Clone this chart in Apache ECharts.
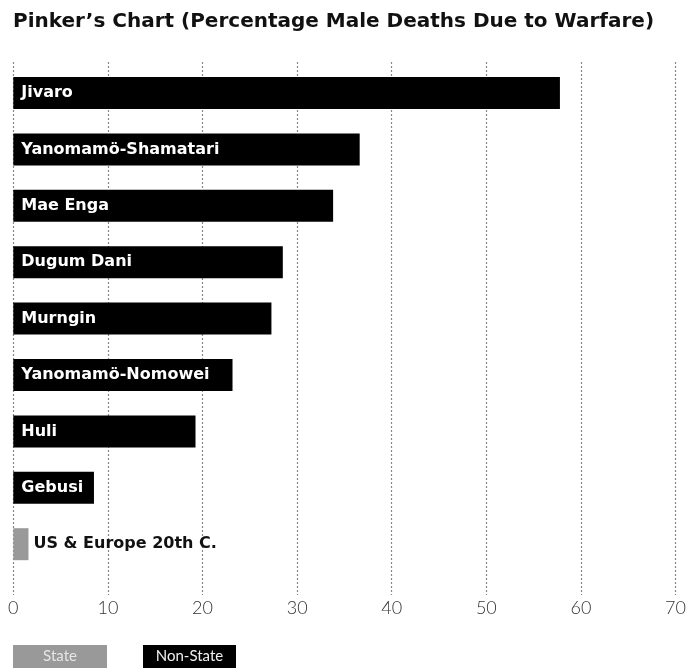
<!DOCTYPE html>
<html>
<head>
<meta charset="utf-8">
<script src="https://cdn.jsdelivr.net/npm/echarts@6/dist/echarts.min.js"></script>
<style>html,body{margin:0;padding:0;background:#fff;}#c{width:689px;height:668px;}</style>
</head>
<body>
<div id="c"></div>
<script>
const categories = ['Jivaro','Yanomamö-Shamatari','Mae Enga','Dugum Dani','Murngin','Yanomamö-Nomowei','Huli','Gebusi','US & Europe 20th C.'];
const nonStateValues = [57.6, 36.5, 33.7, 28.4, 27.2, 23.1, 19.2, 8.5, '-'];
const stateValues = ['-', '-', '-', '-', '-', '-', '-', '-', 1.6];
const xTicks = [0, 10, 20, 30, 40, 50, 60, 70];
const titleText = 'Pinker’s Chart (Percentage Male Deaths Due to Warfare)';

const BOLD = 'DejaVu Sans';
const LIGHT = 'Lato';
const chart = echarts.init(document.getElementById('c'), null, {renderer: 'canvas'});
const gridLeft = 13.3, gridWidth = 664.3;
chart.setOption({
  animation: false,
  backgroundColor: '#fff',
  title: {
    text: titleText, left: 8, top: 7,
    textStyle: {fontFamily: BOLD, fontWeight: 'bold', fontSize: 20, color: '#111'}
  },
  legend: {
    left: 13, top: 645, padding: 0, itemWidth: 0, itemHeight: 0, itemGap: 36, selectedMode: false,
    formatter: n => n === 'State' ? '{s|State}' : '{n|Non-State}',
    textStyle: {
      padding: [0, 0, 0, -5],
      rich: {
        s: {backgroundColor: '#999', color: '#e6e6e6', width: 94, height: 23, lineHeight: 23, align: 'center', fontSize: 15, fontFamily: LIGHT},
        n: {backgroundColor: '#000', color: '#f0f0f0', width: 93, height: 23, lineHeight: 23, align: 'center', fontSize: 15, fontFamily: LIGHT}
      }
    },
    data: ['State', 'Non-State']
  },
  grid: [
    {left: gridLeft, width: gridWidth, top: 62, bottom: 668 - 595},
    {left: gridLeft, width: gridWidth, top: 64.8, height: 507.6}
  ],
  xAxis: [
    {type: 'value', gridIndex: 0, min: xTicks[0], max: xTicks[xTicks.length - 1], interval: 10,
     axisLine: {show: false}, axisTick: {show: false},
     axisLabel: {margin: 4, fontFamily: LIGHT, fontSize: 18, color: '#333', fontWeight: 300},
     splitLine: {show: true, lineStyle: {type: [2, 2], color: '#888', width: 1.2}}},
    {type: 'value', gridIndex: 1, min: xTicks[0], max: xTicks[xTicks.length - 1], interval: 10,
     show: false}
  ],
  yAxis: [
    {type: 'category', gridIndex: 0, data: [''], show: false},
    {type: 'category', gridIndex: 1, data: categories, inverse: true, show: false}
  ],
  series: [
    {name: 'State', type: 'bar', xAxisIndex: 1, yAxisIndex: 1, data: stateValues, barWidth: 32, barGap: '-100%',
     itemStyle: {color: '#999'},
     label: {show: true, position: 'right', distance: 5, formatter: p => p.name,
             fontFamily: BOLD, fontWeight: 'bold', fontSize: 16, color: '#111'}},
    {name: 'Non-State', type: 'bar', xAxisIndex: 1, yAxisIndex: 1, data: nonStateValues, barWidth: 32, barGap: '-100%',
     itemStyle: {color: '#000'},
     label: {show: true, position: 'insideLeft', distance: 8, formatter: p => p.name,
             fontFamily: BOLD, fontWeight: 'bold', fontSize: 16, color: '#fff'}}
  ]
});
</script>
</body>
</html>
